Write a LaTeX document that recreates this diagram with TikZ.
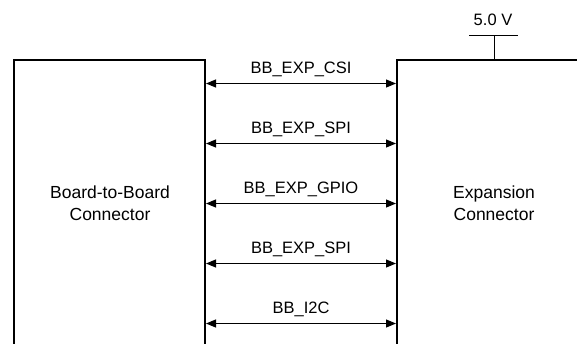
\documentclass[tikz,border=0pt]{standalone}
\usepackage{fontspec}
\setmainfont{Liberation Sans}
\usetikzlibrary{arrows.meta}
\begin{document}
\begin{tikzpicture}[x=1pt,y=-1pt,
  box/.style={line width=2pt},
  sig/.style={line width=1pt,{Triangle[length=10pt,width=8pt]}-{Triangle[length=10pt,width=8pt]}},
  lbl/.style={font=\fontsize{16.5}{20}\selectfont,inner sep=0pt,anchor=base},
  txt/.style={font=\fontsize{17.5}{22}\selectfont,align=center,inner sep=0pt,anchor=base}]
\useasboundingbox (0,0) rectangle (577,343);
% boxes
\draw[box] (14,344) -- (14,60) -- (205,60) -- (205,344);
\draw[box] (397,344) -- (397,60) -- (578,60);
\node[txt] (bb) at (110,220) {Board-to-Board\\Connector};
\node[txt] (exp) at (494,220) {Expansion\\Connector};
% 5.0 V
\coordinate (vtop) at (494,35);
\coordinate (vbot) at (494,60);
\coordinate (vl) at (469,35);
\coordinate (vr) at (518,35);
\draw[line width=1pt] (vl) -- (vr);
\draw[line width=1pt] (vtop) -- (vbot);
\node[lbl] (v) at (493,25) {5.0 V};
% signals
\foreach \y/\t [count=\i] in {83.5/BB\_EXP\_CSI,143.5/BB\_EXP\_SPI,203.5/BB\_EXP\_GPIO,263.5/BB\_EXP\_SPI,323.5/BB\_I2C}{
  \coordinate (l\i) at (206,\y);
  \coordinate (r\i) at (396,\y);
  \draw[sig] (l\i) -- (r\i);
  \node[lbl] (t\i) at (301,\y-10.5) {\t};
}
\end{tikzpicture}
\end{document}
